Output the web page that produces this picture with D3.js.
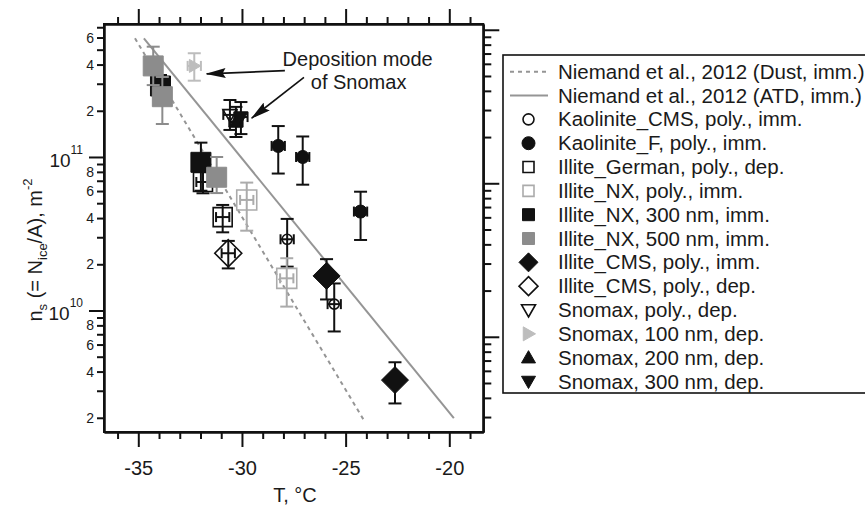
<!DOCTYPE html>
<html>
<head>
<meta charset="utf-8">
<script src="https://cdn.jsdelivr.net/npm/d3@7"></script>
<style>
  body { margin: 0; background: #fff; }
  text { font-family: "Liberation Sans", Arial, sans-serif; fill: #1a1a1a; }
</style>
</head>
<body>
<svg id="chart" width="865" height="506"></svg>
<script>
// temperature in deg C, ns in m^-2 ; each point is [T, ns, nsLow, nsHigh]
var tempErr = 0.32;

var kaoliniteCMS = [[-27.82, 2.91e10, 1.93e10, 3.95e10], [-25.55, 1.10e10, 7.3e9, 1.50e10]];
var kaoliniteF = [[-28.25, 1.18e11, 7.8e10, 1.59e11], [-27.07, 1.00e11, 6.6e10, 1.36e11], [-24.28, 4.41e10, 2.88e10, 5.94e10]];
var illiteGerman = [[-31.88, 6.87e10, 5.8e10, 8.5e10], [-30.93, 4.06e10, 3.23e10, 4.87e10]];
var illiteNXpoly = [[-29.77, 5.25e10, 3.31e10, 6.81e10], [-27.84, 1.62e10, 1.06e10, 2.19e10]];
var illiteNX300 = [[-33.93, 2.90e11, 2.35e11, 3.42e11], [-31.98, 9.23e10, 6.03e10, 1.24e11]];
var illiteNX500 = [[-34.28, 3.92e11, 2.94e11, 5.23e11], [-33.84, 2.47e11, 1.64e11, 3.32e11], [-31.22, 7.38e10, 5.82e10, 1.0e11]];
var illiteCMSimm = [[-25.92, 1.68e10, 1.18e10, 2.16e10], [-22.62, 3.52e9, 2.48e9, 4.6e9]];
var illiteCMSdep = [[-30.66, 2.36e10, 1.88e10, 2.84e10]];
var snomaxPoly = [[-30.58, 1.88e11, 1.50e11, 2.35e11]];
var snomax100 = [[-32.30, 3.92e11, 3.14e11, 4.74e11]];
var snomax200 = [[-30.29, 1.69e11, 1.35e11, 2.12e11]];
var snomax300 = [[-30.05, 1.82e11, 1.41e11, 2.28e11]];

// Niemand et al. 2012 parameterisations, end points [T, ns]
var niemandDust = [[-35.16, 5.93e11], [-24.15, 1.96e9]];
var niemandATD = [[-34.73, 5.93e11], [-19.78, 1.99e9]];

var legendLabels = [
    "Niemand et al., 2012 (Dust, imm.)",
    "Niemand et al., 2012 (ATD, imm.)",
    "Kaolinite_CMS, poly., imm.",
    "Kaolinite_F, poly., imm.",
    "Illite_German, poly., dep.",
    "Illite_NX, poly., imm.",
    "Illite_NX, 300 nm, imm.",
    "Illite_NX, 500 nm, imm.",
    "Illite_CMS, poly., imm.",
    "Illite_CMS, poly., dep.",
    "Snomax, poly., dep.",
    "Snomax, 100 nm, dep.",
    "Snomax, 200 nm, dep.",
    "Snomax, 300 nm, dep."];

var tempTicks = [-35, -30, -25, -20];
var tempMinorTicks = [-36, -34, -33, -32, -31, -29, -28, -27, -26, -24, -23, -22, -21, -19];
var nsLabelledMinor = [2, 4, 6, 8];

var noteLines = ["Deposition mode", "of Snomax"];
var notePos = [[-28.04, 3.92e11], [-26.68, 2.79e11]];
var arrows = [
    [[-27.93, 3.65e11], [-31.70, 3.48e11]],
    [[-27.01, 3.30e11], [-29.53, 1.79e11]]];

// series drawing styles, same order as the legend (after the two lines)
var series = [
    {data: kaoliniteCMS, shape: "circle", color: "#111", open: true, size: 5, lsize: 5.5},
    {data: kaoliniteF, shape: "circle", color: "#111", open: false, size: 6.5, lsize: 6.5},
    {data: illiteGerman, shape: "square", color: "#111", open: true, size: 9.5, lsize: 5.5},
    {data: illiteNXpoly, shape: "square", color: "#ababab", open: true, size: 10, lsize: 5.5},
    {data: illiteNX300, shape: "square", color: "#111", open: false, size: 10, lsize: 6},
    {data: illiteNX500, shape: "square", color: "#8c8c8c", open: false, size: 10, lsize: 6},
    {data: illiteCMSimm, shape: "diamond", color: "#111", open: false, size: 13.5, lsize: 9.5},
    {data: illiteCMSdep, shape: "diamond", color: "#111", open: true, size: 13.5, lsize: 9.5},
    {data: snomaxPoly, shape: "down", color: "#111", open: true, size: 7, lsize: 7},
    {data: snomax100, shape: "right", color: "#bdbdbd", open: false, size: 6.5, lsize: 7},
    {data: snomax200, shape: "up", color: "#111", open: false, size: 7, lsize: 7},
    {data: snomax300, shape: "down", color: "#111", open: false, size: 7, lsize: 7}];

var svg = d3.select("#chart");

var x = d3.scaleLinear().domain([-36.654, -18.36]).range([104, 483.3]);
var y = d3.scaleLog().domain([1.616e9, 7.35e11]).range([432, 24]);
// right axis is offset from the left one in the original
var shift = Math.pow(10, 0.1713);
var yR = d3.scaleLog().domain([1.616e9 * shift, 7.35e11 * shift]).range([432, 24]);

function logMajors(sc) {
    var d = sc.domain(), out = [];
    for (var e = Math.ceil(Math.log10(d[0])); Math.pow(10, e) <= d[1]; e++) out.push(Math.pow(10, e));
    return out;
}
function logMinors(sc) {
    var d = sc.domain(), out = [];
    for (var e = Math.floor(Math.log10(d[0])); e <= Math.ceil(Math.log10(d[1])); e++) {
        for (var m = 2; m <= 9; m++) {
            var v = m * Math.pow(10, e);
            if (v >= d[0] && v <= d[1]) out.push(v);
        }
    }
    return out;
}

function shapePath(shape, s) {
    if (shape === "diamond") return "M0," + (-s) + "L" + s + ",0L0," + s + "L" + (-s) + ",0Z";
    if (shape === "square") return "M" + (-s) + "," + (-s) + "H" + s + "V" + s + "H" + (-s) + "Z";
    if (shape === "up") return "M0," + (-s) + "L" + s + "," + (s * 0.75) + "L" + (-s) + "," + (s * 0.75) + "Z";
    if (shape === "down") return "M0," + s + "L" + s + "," + (-s * 0.75) + "L" + (-s) + "," + (-s * 0.75) + "Z";
    if (shape === "right") return "M" + s + ",0L" + (-s * 0.75) + "," + (-s) + "L" + (-s * 0.75) + "," + s + "Z";
    return d3.arc()({innerRadius: 0, outerRadius: s, startAngle: 0, endAngle: 2 * Math.PI});
}

function drawMarker(g, sr, px, py, s) {
    g.append("path")
        .attr("transform", "translate(" + px + "," + py + ")")
        .attr("d", shapePath(sr.shape, s))
        .attr("fill", sr.open ? "none" : sr.color)
        .attr("stroke", sr.color)
        .attr("stroke-width", sr.open ? 1.6 : 1);
}

// axes
function styleAxis(g) {
    g.selectAll(".domain").attr("stroke", "#111").attr("stroke-width", 2);
    g.selectAll(".tick line").attr("stroke", "#111").attr("stroke-width", 2);
    g.selectAll("text").attr("font-family", "Liberation Sans, Arial, sans-serif").attr("fill", "#1a1a1a");
}

svg.append("g").attr("transform", "translate(0,432)")
    .call(d3.axisBottom(x).tickValues(tempMinorTicks).tickSize(7).tickSizeOuter(0).tickFormat(""))
    .call(styleAxis);
svg.append("g").attr("transform", "translate(0,432)")
    .call(d3.axisBottom(x).tickValues(tempTicks).tickSize(15).tickSizeOuter(0).tickPadding(14)
        .tickFormat(function (d) { return String(d); }))
    .call(styleAxis)
    .selectAll("text").attr("font-size", 20);
svg.append("g").attr("transform", "translate(0,24)")
    .call(d3.axisTop(x).tickValues(tempMinorTicks).tickSize(7).tickSizeOuter(0).tickFormat(""))
    .call(styleAxis);
svg.append("g").attr("transform", "translate(0,24)")
    .call(d3.axisTop(x).tickValues(tempTicks).tickSize(15).tickSizeOuter(0).tickFormat(""))
    .call(styleAxis);

svg.append("g").attr("transform", "translate(104,0)")
    .call(d3.axisLeft(y).tickValues(logMinors(y)).tickSize(7).tickSizeOuter(0).tickPadding(3)
        .tickFormat(function (d) {
            var m = Math.round(d / Math.pow(10, Math.floor(Math.log10(d) + 1e-9)));
            return nsLabelledMinor.indexOf(m) >= 0 ? String(m) : "";
        }))
    .call(styleAxis)
    .selectAll("text").attr("font-size", 14);
svg.append("g").attr("transform", "translate(104,0)")
    .call(d3.axisLeft(y).tickValues(logMajors(y)).tickSize(15).tickSizeOuter(0).tickFormat(""))
    .call(styleAxis);

var majLab = svg.append("g");
logMajors(y).forEach(function (v) {
    var t = majLab.append("text")
        .attr("x", 83).attr("y", y(v) + 10)
        .attr("text-anchor", "end").attr("font-size", 19);
    t.append("tspan").text("10");
    t.append("tspan").attr("font-size", 12).attr("dy", -13).text(String(Math.round(Math.log10(v))));
});

svg.append("g").attr("transform", "translate(483.3,0)")
    .call(d3.axisRight(yR).tickValues(logMinors(yR)).tickSize(8).tickSizeOuter(0).tickFormat(""))
    .call(styleAxis);
svg.append("g").attr("transform", "translate(483.3,0)")
    .call(d3.axisRight(yR).tickValues(logMajors(yR)).tickSize(16).tickSizeOuter(0).tickFormat(""))
    .call(styleAxis);

svg.append("rect")
    .attr("x", 104).attr("y", 24).attr("width", 379.3).attr("height", 408)
    .attr("fill", "none").attr("stroke", "#111").attr("stroke-width", 2);

// axis titles
svg.append("text")
    .attr("x", 295).attr("y", 502)
    .attr("text-anchor", "middle").attr("font-size", 20)
    .text("T, °C");

var yt = svg.append("text")
    .attr("transform", "translate(42,250) rotate(-90)")
    .attr("text-anchor", "middle").attr("font-size", 20);
yt.append("tspan").text("n");
yt.append("tspan").attr("font-size", 13).attr("dy", 5).text("s");
yt.append("tspan").attr("dy", -5).text(" (= N");
yt.append("tspan").attr("font-size", 13).attr("dy", 5).text("ice");
yt.append("tspan").attr("dy", -5).text("/A), m");
yt.append("tspan").attr("font-size", 13).attr("dy", -10).text("-2");

// parameterisation lines
var line = d3.line()
    .x(function (d) { return x(d[0]); })
    .y(function (d) { return y(d[1]); });

svg.append("path").datum(niemandDust).attr("d", line)
    .attr("fill", "none").attr("stroke", "#959595").attr("stroke-width", 2)
    .attr("stroke-dasharray", "4,4");
svg.append("path").datum(niemandATD).attr("d", line)
    .attr("fill", "none").attr("stroke", "#959595").attr("stroke-width", 2);

// points with error bars
var pts = svg.append("g");
series.forEach(function (sr) {
    var g = pts.append("g");
    sr.data.forEach(function (p) {
        var px = x(p[0]), py = y(p[1]), lo = y(p[2]), hi = y(p[3]);
        var xl = x(p[0] - tempErr), xr = x(p[0] + tempErr);
        var eb = g.append("g").attr("stroke", sr.color).attr("stroke-width", 2).attr("fill", "none");
        eb.append("line").attr("x1", px).attr("x2", px).attr("y1", lo).attr("y2", hi);
        eb.append("line").attr("x1", px - 6.5).attr("x2", px + 6.5).attr("y1", lo).attr("y2", lo);
        eb.append("line").attr("x1", px - 6.5).attr("x2", px + 6.5).attr("y1", hi).attr("y2", hi);
        eb.append("line").attr("x1", xl).attr("x2", xr).attr("y1", py).attr("y2", py);
        eb.append("line").attr("x1", xl).attr("x2", xl).attr("y1", py - 5).attr("y2", py + 5);
        eb.append("line").attr("x1", xr).attr("x2", xr).attr("y1", py - 5).attr("y2", py + 5);
        drawMarker(g, sr, px, py, sr.size);
    });
});

// annotation
svg.append("defs").append("marker")
    .attr("id", "head").attr("viewBox", "0 0 20 10")
    .attr("refX", 19).attr("refY", 5)
    .attr("markerWidth", 20).attr("markerHeight", 10)
    .attr("markerUnits", "userSpaceOnUse").attr("orient", "auto")
    .append("path").attr("d", "M0,0L20,5L0,10L3,5Z").attr("fill", "#111");

arrows.forEach(function (a) {
    svg.append("line")
        .attr("x1", x(a[0][0])).attr("y1", y(a[0][1]))
        .attr("x2", x(a[1][0])).attr("y2", y(a[1][1]))
        .attr("stroke", "#111").attr("stroke-width", 1.6)
        .attr("marker-end", "url(#head)");
});
noteLines.forEach(function (s, i) {
    svg.append("text")
        .attr("x", x(notePos[i][0])).attr("y", y(notePos[i][1]))
        .attr("font-size", 20).text(s);
});

// legend
var leg = svg.append("g");
leg.append("rect")
    .attr("x", 503).attr("y", 55).attr("width", 380).attr("height", 338)
    .attr("fill", "#fff").attr("stroke", "#111").attr("stroke-width", 1.6);

var rowY = d3.scaleLinear().domain([0, 13]).range([71.7, 381.5]);
legendLabels.forEach(function (lab, i) {
    var cy = rowY(i);
    if (i < 2) {
        leg.append("line").attr("x1", 510).attr("x2", 548).attr("y1", cy).attr("y2", cy)
            .attr("stroke", "#959595").attr("stroke-width", 2)
            .attr("stroke-dasharray", i === 0 ? "4,4" : null);
    } else {
        drawMarker(leg, series[i - 2], 528.5, cy, series[i - 2].lsize);
    }
    leg.append("text").attr("x", 558).attr("y", cy + 7)
        .attr("font-size", 20.5).text(lab);
});
</script>
</body>
</html>
